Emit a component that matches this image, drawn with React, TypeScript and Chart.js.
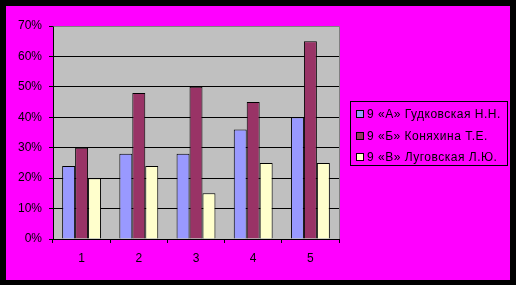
import React, { useEffect, useRef } from "react";
import { Chart, registerables } from "chart.js";
Chart.register(...registerables);

const categories = ["1", "2", "3", "4", "5"];
const seriesNames = ["9 «А» Гудковская Н.Н.", "9 «Б» Коняхина Т.Е.", "9 «В» Луговская Л.Ю."];
const seriesA = [24, 28, 28, 36, 40];
const seriesB = [30, 48, 50, 45, 65];
const seriesC = [20, 24, 15, 25, 25];
const seriesColors = ["#9999FF", "#993366", "#FFFFCC"];
const yMin = 0;
const yMax = 70;
const yStep = 10;

const FONT = "'Liberation Sans', Arial, sans-serif";

const plotBg = {
  id: "plotBg",
  beforeDraw(chart: any) {
    const { ctx, chartArea: a } = chart;
    ctx.save();
    ctx.fillStyle = "#C0C0C0";
    ctx.fillRect(a.left, a.top, a.right - a.left, a.bottom - a.top);
    ctx.restore();
  },
  afterDraw(chart: any) {
    const { ctx, chartArea: a } = chart;
    ctx.save();
    ctx.strokeStyle = "#808080";
    ctx.lineWidth = 1;
    ctx.beginPath();
    ctx.moveTo(Math.round(a.left) + 0.5, Math.round(a.top) + 0.5);
    ctx.lineTo(Math.round(a.right) + 0.5, Math.round(a.top) + 0.5);
    ctx.lineTo(Math.round(a.right) + 0.5, Math.round(a.bottom));
    ctx.stroke();
    ctx.restore();
  },
};

export default function App() {
  const ref = useRef<HTMLCanvasElement | null>(null);
  useEffect(() => {
    if (!ref.current) return;
    const data = [seriesA, seriesB, seriesC];
    const chart = new Chart(ref.current, {
      type: "bar",
      data: {
        labels: categories,
        datasets: data.map((d, i) => ({
          label: seriesNames[i],
          data: d,
          backgroundColor: seriesColors[i],
          borderColor: "#000",
          borderWidth: 1,
          categoryPercentage: 0.68,
          barPercentage: 1,
        })),
      },
      options: {
        responsive: false,
        maintainAspectRatio: false,
        animation: false,
        layout: { padding: { left: 0, top: 26, right: 177, bottom: 0 } },
        plugins: { legend: { display: false }, tooltip: { enabled: false } },
        scales: {
          x: {
            grid: {
              offset: true,
              drawOnChartArea: false,
              drawTicks: true,
              tickLength: 4,
              color: "#000",
            },
            border: { color: "#000", width: 1 },
            ticks: { color: "#000", font: { family: FONT, size: 12 }, padding: 8 },
            afterFit(scale: any) {
              scale.height = 46;
            },
          },
          y: {
            min: yMin,
            max: yMax,
            grid: {
              color: (c: any) => (c.tick && c.tick.value === yMax ? "#808080" : "#000"),
              tickColor: "#000",
              tickLength: 4,
            },
            border: { color: "#000", width: 1 },
            ticks: {
              stepSize: yStep,
              color: "#000",
              font: { family: FONT, size: 12 },
              padding: 7,
              callback: (v: any) => v + "%",
            },
            afterFit(scale: any) {
              scale.width = 53;
            },
          },
        },
      },
      plugins: [plotBg],
    });
    return () => chart.destroy();
  }, []);

  return (
    <div style={{ position: "absolute", left: 0, top: 0, width: 516, height: 285, background: "#000" }}>
      <div style={{ position: "absolute", left: 6, top: 6, width: 504, height: 274, background: "#FF00FF" }} />
      <canvas ref={ref} width={516} height={285} style={{ position: "absolute", left: 0, top: 0 }} />
      <div
        style={{
          position: "absolute",
          left: 350,
          top: 101,
          width: 156,
          height: 63,
          border: "1px solid #000",
          fontFamily: FONT,
          fontSize: 12,
          letterSpacing: "0.5px",
          color: "#000",
        }}
      >
        {seriesNames.map((n, i) => (
          <div
            key={n}
            style={{ position: "absolute", left: 5, top: 5 + i * 21.5, height: 14, display: "flex", alignItems: "center", whiteSpace: "nowrap" }}
          >
            <span
              style={{
                display: "inline-block",
                width: 6,
                height: 6,
                border: "1px solid #000",
                background: seriesColors[i],
                marginRight: 3,
              }}
            />
            <span>{n}</span>
          </div>
        ))}
      </div>
    </div>
  );
}
